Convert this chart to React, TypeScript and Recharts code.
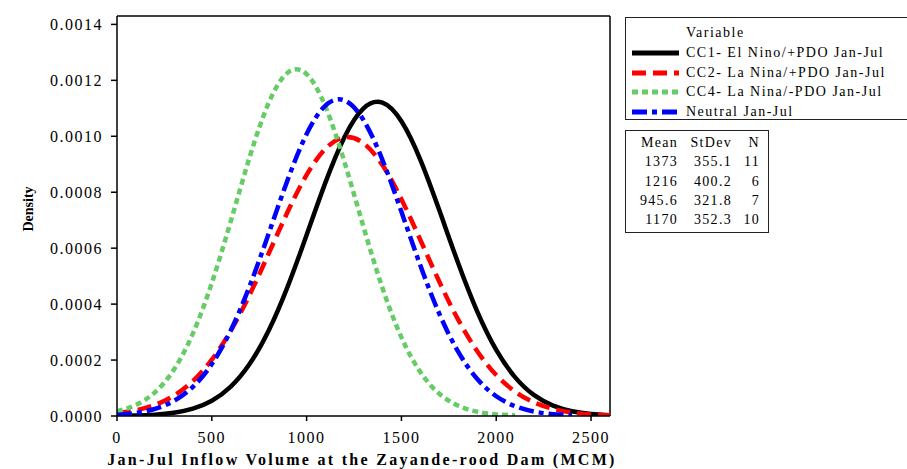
import { LineChart, Line, XAxis, YAxis, ReferenceLine } from "recharts";

// inflow volume (MCM), sampled every 100
const volumes = [
  0, 100, 200, 300, 400, 500, 600, 700, 800, 900, 1000, 1100, 1200, 1300,
  1400, 1500, 1600, 1700, 1800, 1900, 2000, 2100, 2200, 2300, 2400, 2500, 2600,
];

// densities (null where a curve is not drawn)
const cc1 = [
  0.0000006, 0.0000018, 0.0000048, 0.0000117, 0.0000263, 0.0000547, 0.0001051,
  0.0001865, 0.0003056, 0.0004627, 0.0006471, 0.0008361, 0.0009978, 0.0011,
  0.0011203, 0.0010538, 0.0009159, 0.0007352, 0.0005452, 0.0003735, 0.0002364,
  0.0001382, 0.0000746, 0.0000372, 0.0000172, 0.0000073, 0.0000029,
];
const cc2 = [
  0.0000099, 0.0000204, 0.0000397, 0.0000726, 0.0001247, 0.0002012, 0.000305,
  0.0004342, 0.0005808, 0.00073, 0.0008618, 0.0009559, 0.0009962, 0.0009752,
  0.000897, 0.000775, 0.0006292, 0.0004798, 0.0003437, 0.0002314, 0.0001464,
  0.000087, 0.0000485, 0.0000255, 0.0000125, 0.0000058, 0.0000025,
];
const cc4 = [
  0.0000165, 0.0000393, 0.0000847, 0.0001657, 0.0002946, 0.0004753, 0.0006964,
  0.0009265, 0.0011192, 0.0012274, 0.0012222, 0.001105, 0.000907, 0.0006761,
  0.0004575, 0.0002811, 0.0001568, 0.0000794, 0.0000365, 0.0000152, 0.0000058,
  0.000002, null, null, null, null, null,
];
const neutral = [
  0.0000046, 0.0000112, 0.0000256, 0.0000537, 0.0001039, 0.0001856, 0.0003059,
  0.0004651, 0.0006524, 0.0008442, 0.001008, 0.0011103, 0.0011283, 0.0010579,
  0.0009151, 0.0007303, 0.0005377, 0.0003652, 0.0002289, 0.0001324, 0.0000706,
  0.0000347, 0.0000158, 0.0000066, 0.0000026, null, null,
];

const seriesNames = [
  "CC1- El Nino/+PDO Jan-Jul",
  "CC2- La Nina/+PDO Jan-Jul",
  "CC4- La Nina/-PDO Jan-Jul",
  "Neutral Jan-Jul",
];
const seriesKeys = ["cc1", "cc2", "cc4", "neutral"];
const seriesColors = ["#000000", "#ff0000", "#66cc66", "#0000ff"];
const seriesDash = ["", "14 7", "6 4", "15 5 5 5"];

const means = ["1373", "1216", "945.6", "1170"];
const stdevs = ["355.1", "400.2", "321.8", "352.3"];
const counts = ["11", "6", "7", "10"];

const xTicks = [0, 500, 1000, 1500, 2000, 2500];
const yTicks = [0, 0.0002, 0.0004, 0.0006, 0.0008, 0.001, 0.0012, 0.0014];

const data = volumes.map((v, i) => ({
  volume: v,
  cc1: cc1[i],
  cc2: cc2[i],
  cc4: cc4[i],
  neutral: neutral[i],
}));

const serif = "'Liberation Serif', 'DejaVu Serif', serif";
const tickStyle = { fill: "#000", fontFamily: serif, fontSize: 16, letterSpacing: 1.5 };

export default function App() {
  return (
    <div
      style={{
        position: "absolute",
        left: 0,
        top: 0,
        width: 907,
        height: 469,
        overflow: "hidden",
        background: "#fff",
        fontFamily: serif,
      }}
    >
      <LineChart
        width={907}
        height={469}
        data={data}
        margin={{ top: 16, right: 297, bottom: 0, left: 0 }}
      >
        <XAxis
          dataKey="volume"
          type="number"
          domain={[0, 2600]}
          ticks={xTicks}
          allowDataOverflow
          height={53}
          tick={tickStyle}
          tickSize={5}
          tickMargin={11}
          stroke="#000"
          strokeWidth={1.5}
          label={{
            content: () => (
              <text
                x={362}
                y={465}
                textAnchor="middle"
                fill="#000"
                fontFamily={serif}
                fontSize={16}
                fontWeight="bold"
                letterSpacing={2.3}
              >
                Jan-Jul Inflow Volume at the Zayande-rood Dam (MCM)
              </text>
            ),
          }}
        />
        <YAxis
          type="number"
          domain={[0, 0.00143]}
          ticks={yTicks}
          allowDataOverflow
          width={117}
          tick={tickStyle}
          tickSize={6}
          tickMargin={8}
          tickFormatter={(v: number) => v.toFixed(4)}
          stroke="#000"
          strokeWidth={1.5}
          label={{
            content: () => (
              <text
                x={28}
                y={209}
                transform="rotate(-90 28 209)"
                textAnchor="middle"
                dominantBaseline="central"
                fill="#000"
                fontFamily={serif}
                fontSize={14}
                fontWeight="bold"
              >
                Density
              </text>
            ),
          }}
        />
        <ReferenceLine y={0.00143} stroke="#000" strokeWidth={1.5} />
        <ReferenceLine x={2600} stroke="#000" strokeWidth={1.5} />
        {seriesKeys.map((k, i) => (
          <Line
            key={k}
            dataKey={k}
            name={seriesNames[i]}
            type="natural"
            stroke={seriesColors[i]}
            strokeWidth={4.5}
            strokeDasharray={seriesDash[i] || undefined}
            dot={false}
            activeDot={false}
            isAnimationActive={false}
          />
        ))}
      </LineChart>

      {/* legend box */}
      <div
        style={{
          position: "absolute",
          left: 625,
          top: 17,
          width: 300,
          height: 103,
          border: "1.5px solid #222",
          boxSizing: "border-box",
          fontSize: 14,
          letterSpacing: 1.5,
          color: "#000",
          lineHeight: "16px",
        }}
      >
        <div style={{ position: "absolute", left: 60, top: 7 }}>Variable</div>
        {seriesNames.map((n, i) => (
          <div
            key={n}
            style={{
              position: "absolute",
              left: 5,
              top: 27 + i * 19.5,
              display: "flex",
              alignItems: "center",
              whiteSpace: "nowrap",
            }}
          >
            <svg width={50} height={10}>
              <line
                x1={1}
                y1={5}
                x2={48}
                y2={5}
                stroke={seriesColors[i]}
                strokeWidth={5}
                strokeDasharray={seriesDash[i] || undefined}
              />
            </svg>
            <span style={{ marginLeft: 5 }}>{n}</span>
          </div>
        ))}
      </div>

      {/* summary stats box */}
      <div
        style={{
          position: "absolute",
          left: 625,
          top: 130,
          width: 144,
          height: 103,
          border: "1.5px solid #222",
          boxSizing: "border-box",
          fontSize: 14,
          letterSpacing: 1.3,
          color: "#000",
          lineHeight: "16px",
        }}
      >
        {[["Mean", "StDev", "N"]]
          .concat(means.map((m, i) => [m, stdevs[i], counts[i]]))
          .map((row, r) => (
            <div
              key={r}
              style={{ position: "absolute", top: 4 + r * 19.3, left: 0, right: 0 }}
            >
              <span style={{ position: "absolute", right: 90, whiteSpace: "nowrap" }}>
                {row[0]}
              </span>
              <span style={{ position: "absolute", right: 36, whiteSpace: "nowrap" }}>
                {row[1]}
              </span>
              <span style={{ position: "absolute", right: 8, whiteSpace: "nowrap" }}>
                {row[2]}
              </span>
            </div>
          ))}
      </div>
    </div>
  );
}
